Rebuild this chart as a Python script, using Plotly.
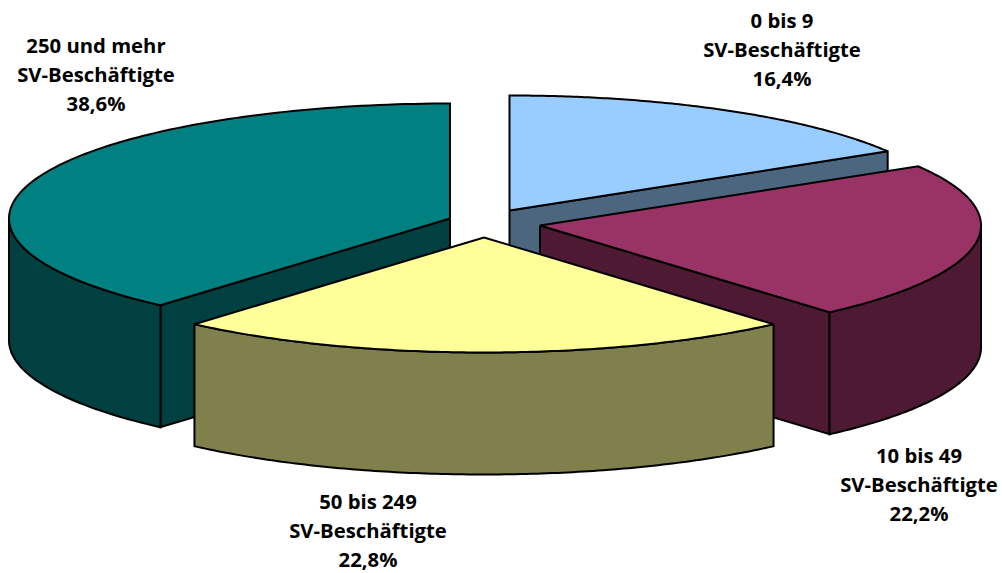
import numpy as np
import plotly.graph_objects as go

categories = ["0 bis 9", "10 bis 49", "50 bis 249", "250 und mehr"]
shares = [16.4, 22.2, 22.8, 38.6]
top_colors = ["#99CCFF", "#993366", "#FFFF99", "#008080"]
side_colors = ["#4D6680", "#4D1933", "#80804D", "#004040"]
apex_x = [509.5, 540, 484, 450]
apex_y = [210.5, 225.5, 237.5, 218.5]
label_x = [782, 919, 368, 96]
label_y = [52, 487, 533, 77]
draw_order = [3, 0, 1, 2]

RX, RY, DEPTH = 441, 115, 122
FONT = "Open Sans"
LINE_STEP = 28.7


def pt(i, t):
    return apex_x[i] + RX * np.cos(t), apex_y[i] - RY * np.sin(t)


def poly(fig, xs, ys, color):
    fig.add_trace(go.Scatter(
        x=list(xs) + [xs[0]], y=list(ys) + [ys[0]], mode="lines", fill="toself",
        fillcolor=color, line=dict(color="black", width=2, simplify=False),
        hoverinfo="skip", showlegend=False))


fig = go.Figure()
edges = 90 - np.concatenate([[0], np.cumsum(shares)]) * 3.6
for i in draw_order:
    start, end = np.radians(edges[i]), np.radians(edges[i + 1])
    arc = np.linspace(start, end, 121)
    ax, ay = pt(i, arc)
    cx, cy = apex_x[i], apex_y[i]
    # visible cut face: the teal slice shows its leading radius, blue and crimson their trailing one
    if i == 3:
        ex, ey = pt(i, start)
        poly(fig, [cx, ex, ex, cx], [cy, ey, ey + DEPTH, cy + DEPTH], side_colors[i])
    if i in (0, 1):
        ex, ey = pt(i, end)
        poly(fig, [cx, ex, ex, cx], [cy, ey, ey + DEPTH, cy + DEPTH], side_colors[i])
    # outer wall: part of the arc on the front half of the ellipse
    mask = np.sin(arc) <= 0
    if mask.any():
        wx, wy = ax[mask], ay[mask]
        poly(fig, np.r_[wx, wx[::-1]], np.r_[wy, wy[::-1] + DEPTH], side_colors[i])
    poly(fig, np.r_[cx, ax], np.r_[cy, ay], top_colors[i])

for i, c in enumerate(categories):
    lines = [c, "SV-Beschäftigte", str(shares[i]).replace(".", ",") + "%"]
    fig.add_trace(go.Scatter(
        x=[label_x[i]] * 3,
        y=[label_y[i] + (k - 1) * LINE_STEP for k in range(3)],
        mode="text", text=[f"<b>{s}</b>" for s in lines], textposition="middle center",
        textfont=dict(family=FONT, size=20.3, color="black"),
        cliponaxis=False, hoverinfo="skip", showlegend=False))

fig.update_xaxes(range=[0, 1002], visible=False, fixedrange=True)
fig.update_yaxes(range=[573, 0], visible=False, fixedrange=True)
fig.update_layout(width=1002, height=573, margin=dict(l=0, r=0, t=0, b=0),
                  plot_bgcolor="white", paper_bgcolor="white", showlegend=False)
fig.write_html("out.html", config={"displayModeBar": False},
               post_script="document.body.style.margin='0';document.body.style.overflow='hidden';")
